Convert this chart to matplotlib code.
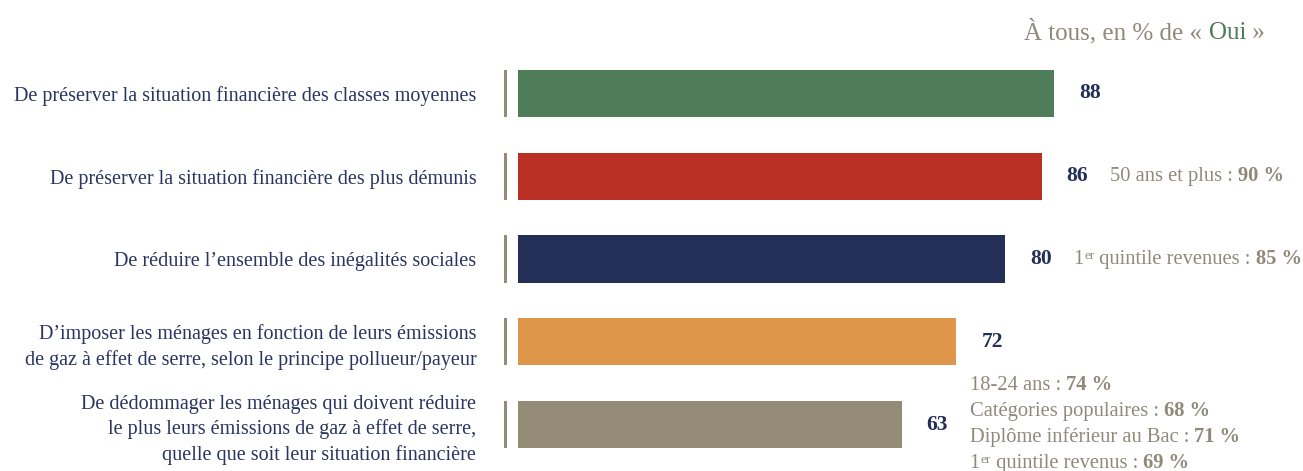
import matplotlib.pyplot as plt

plt.rcParams['font.family'] = ['Liberation Serif', 'DejaVu Serif']

# data
categories = [
    "De préserver la situation financière des classes moyennes",
    "De préserver la situation financière des plus démunis",
    "De réduire l\u2019ensemble des inégalités sociales",
    "D\u2019imposer les ménages en fonction de leurs émissions\nde gaz à effet de serre, selon le principe pollueur/payeur",
    "De dédommager les ménages qui doivent réduire\nle plus leurs émissions de gaz à effet de serre,\nquelle que soit leur situation financière",
]
values = [88, 86, 80, 72, 63]
colors = ["#4f7d5a", "#b92f24", "#232f57", "#df964a", "#948c77"]

# sub-group highlights: list of lines, each line = (label, value, sup)
details = {
    1: [("50 ans et plus : ", "90 %", None)],
    2: [("1", "85 %", ("er", " quintile revenues : "))],
    4: [("18-24 ans : ", "74 %", None),
        ("Catégories populaires : ", "68 %", None),
        ("Diplôme inférieur au Bac : ", "71 %", None),
        ("1", "69 %", ("er", " quintile revenus : "))],
}

NAVY = "#2a3461"
GREY = "#8f897a"
GREEN = "#4f7d5a"
PX = 0.72  # points per pixel at dpi 100

fig = plt.figure(figsize=(13.03, 4.71), dpi=100)
ax = fig.add_axes([518 / 1303, 0.0108, 1 - 518 / 1303, 0.8786])

ypos = list(range(len(values)))
ax.barh(ypos, values, height=0.57, color=colors)
# thin grey marker line left of each bar
ax.barh(ypos, [0.5] * len(values), left=-2.3, height=0.57, color="#948c77", clip_on=False)

ax.set_xlim(0, (1303 - 518) / 6.09)
ax.set_ylim(len(values) - 0.5, -0.5)
ax.set_yticks(ypos)
ax.set_yticklabels(categories, fontsize=14.5, color=NAVY, linespacing=1.38)
ax.tick_params(axis='y', length=0, pad=30)
ax.set_xticks([])
for s in ax.spines.values():
    s.set_visible(False)

# value labels
for i, v in enumerate(values):
    ax.annotate(str(v), xy=(v, i), xytext=(25 * PX, 0), textcoords='offset points',
                ha='left', va='center', fontsize=15.5, fontweight='bold', color="#232f57")


def rich_line(i, v, dy, label, num, sup):
    fs = 14.8
    first = ax.annotate(label, xy=(v, i), xytext=(68 * PX, dy), textcoords='offset points',
                        ha='left', va='center', fontsize=fs, color=GREY)
    prev = first
    if sup is not None:
        s = ax.annotate(sup[0], xy=(1, 1), xycoords=first, xytext=(0.5, 0), textcoords='offset points',
                        ha='left', va='top', fontsize=9.5, color=GREY)
        prev = ax.annotate(sup[1], xy=(1, 0), xycoords=(s, first),
                           ha='left', va='bottom', fontsize=fs, color=GREY)
    ax.annotate(num, xy=(1, 0), xycoords=prev, ha='left', va='bottom',
                fontsize=fs, fontweight='bold', color=GREY)


for i, lines in details.items():
    n = len(lines)
    for k, (label, num, sup) in enumerate(lines):
        dy = ((n - 1) / 2 - k) * 25.7 * PX
        rich_line(i, values[i], dy, label, num, sup)

# title, right aligned, "Oui" in green
t3 = fig.text(1265 / 1303, 1 - 33 / 471, " »", ha='right', va='center', fontsize=18, color=GREY)
t2 = ax.annotate("Oui", xy=(0, 0), xycoords=t3, ha='right', va='bottom', fontsize=18,
                 color=GREEN, annotation_clip=False)
ax.annotate("À tous, en % de « ", xy=(0, 0), xycoords=t2, ha='right', va='bottom',
            fontsize=18, color=GREY, annotation_clip=False)

fig.savefig("out.png", dpi=100)
